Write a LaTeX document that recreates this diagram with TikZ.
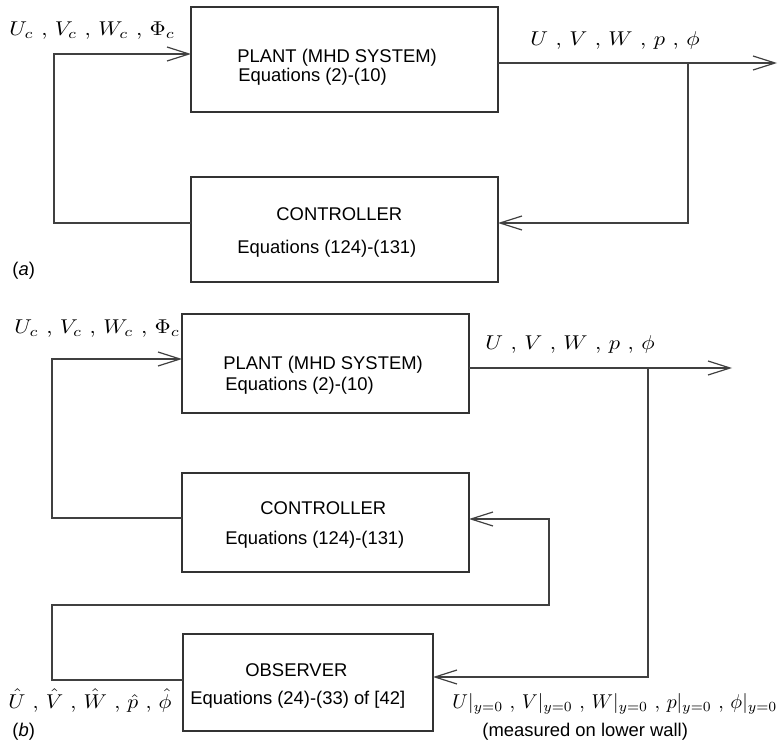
\documentclass[tikz,border=0pt]{standalone}
\usepackage{fontspec}
\usepackage{graphicx}
\newfontfamily\arial{Liberation Sans}
\usetikzlibrary{arrows.meta,positioning}

\newcommand{\stretchx}[2][1.12]{\scalebox{#1}[1]{#2}}

\begin{document}
\begin{tikzpicture}[x=0.5pt,y=0.5pt,
  blk/.style={draw=black!80, line width=0.6pt, inner sep=0pt, outer sep=0pt},
  sig/.style={black!75, line width=0.6pt},
  tip/.style={-{Straight Barb[length=11pt,width=7pt]}},
  txt/.style={anchor=base west, inner sep=0pt, font=\arial\fontsize{9.2}{11}\selectfont},
  var/.style={anchor=base west, inner sep=0pt, font=\fontsize{10}{12}\selectfont}]
  \useasboundingbox (0,0) rectangle (779,751);

  % (a) plant with controller
  \node[blk, minimum width=153.5pt, minimum height=52.5pt] (plantA) at (344.5,691.5) {};
  \node[blk, minimum width=153.5pt, minimum height=52.5pt] (ctrlA) at (344.5,521.5) {};

  \node[txt] (plantAtxt) at (237,688) {PLANT (MHD SYSTEM)};
  \node[txt] (plantAeq) at (238,669) {Equations (2)-(10)};
  \node[txt] (ctrlAtxt) at (276,531) {CONTROLLER};
  \node[txt] (ctrlAeq) at (237,498) {Equations (124)-(131)};

  \coordinate (cornA) at (54,528);
  \coordinate (topA) at (54,697);
  \coordinate (outA) at (777,688);
  \coordinate (tapA) at (688,688);
  \coordinate (tapAlow) at (688,528);

  \draw[sig,tip] (ctrlA.west |- cornA) -- (cornA) -- (topA) -- (plantA.west |- topA);
  \draw[sig,tip] (plantA.east |- outA) -- (outA);
  \draw[sig,tip] (tapA) -- (tapAlow) -- (ctrlA.east |- tapAlow);

  \node[var] (inAlbl) at (9,715) {\stretchx{$U_c$ , $V_c$ , $W_c$ , $\Phi_c$}};
  \node[var] (outAlbl) at (530,705) {\stretchx{$U$ , $V$ , $W$ , $p$ , $\phi$}};
  \node[txt] (capA) at (12,476) {(\textit{a})};

  % (b) plant, controller and observer
  \node[blk, minimum width=143.5pt, minimum height=49.5pt] (plantB) at (325.5,387.5) {};
  \node[blk, minimum width=143.5pt, minimum height=49.5pt] (ctrlB) at (325.5,228.5) {};
  \node[blk, minimum width=125pt, minimum height=48.5pt] (obsB) at (308,68.5) {};

  \node[txt] (plantBtxt) at (223,382) {PLANT (MHD SYSTEM)};
  \node[txt] (plantBeq) at (225,361) {Equations (2)-(10)};
  \node[txt] (ctrlBtxt) at (260,237) {CONTROLLER};
  \node[txt] (ctrlBeq) at (225,207) {Equations (124)-(131)};
  \node[txt] (obsBtxt) at (245,75) {OBSERVER};
  \node[txt] (obsBeq) at (190,47) {Equations (24)-(33) of [42]};

  \coordinate (cornB) at (52,233);
  \coordinate (topB) at (52,392);
  \coordinate (outB) at (732,383);
  \coordinate (tapB) at (648,383);
  \coordinate (tapBlow) at (648,74);
  \coordinate (obsL) at (52,71);
  \coordinate (obsUp) at (52,146);
  \coordinate (obsR) at (549,146);
  \coordinate (obsTop) at (549,232);

  \draw[sig,tip] (ctrlB.west |- cornB) -- (cornB) -- (topB) -- (plantB.west |- topB);
  \draw[sig,tip] (plantB.east |- outB) -- (outB);
  \draw[sig,tip] (tapB) -- (tapBlow) -- (obsB.east |- tapBlow);
  \draw[sig,tip] (obsB.west |- obsL) -- (obsL) -- (obsUp) -- (obsR) -- (obsTop) -- (ctrlB.east |- obsTop);

  \node[var] (inBlbl) at (14,418) {\stretchx{$U_c$ , $V_c$ , $W_c$ , $\Phi_c$}};
  \node[var] (outBlbl) at (485,402) {\stretchx{$U$ , $V$ , $W$ , $p$ , $\phi$}};
  \node[var] (estBlbl) at (8,43) {\stretchx[1.08]{$\hat U$ , $\hat V$ , $\hat W$ , $\hat p$ , $\hat\phi$}};
  \node[var] (measBlbl) at (452,43) {\stretchx[0.99]{$U|_{y=0}$ , $V|_{y=0}$ , $W|_{y=0}$ , $p|_{y=0}$ , $\phi|_{y=0}$}};
  \node[txt] (measBnote) at (482,15) {(measured on lower wall)};
  \node[txt] (capB) at (12,15) {(\textit{b})};
\end{tikzpicture}
\end{document}
